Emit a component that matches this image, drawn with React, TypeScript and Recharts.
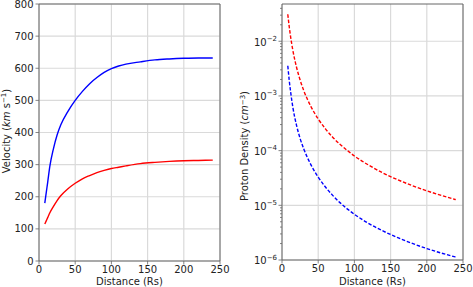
import React from "react";
import {
  LineChart,
  Line,
  XAxis,
  YAxis,
  CartesianGrid,
  ReferenceArea,
  Label,
} from "recharts";

// distance from the Sun (solar radii)
const distance = [8, 10, 12, 15, 20, 25, 30, 40, 50, 60, 70, 80, 90, 100, 110, 120, 140, 160, 180, 200, 220, 240];

// velocity km/s
const velocityFast = [180, 213, 245, 295, 350, 392, 423, 466, 500, 528, 552, 571, 587, 599, 607, 613, 620, 626, 629, 631, 632, 632];
const velocitySlow = [115, 125, 135, 150, 170, 188, 203, 225, 242, 256, 266, 275, 282, 288, 292, 296, 303, 307, 310, 312, 313, 314];

// proton density cm^-3
const densityFast = [
  3.56e-3, 1.92e-3, 1.16e-3, 6.18e-4, 2.93e-4, 1.67e-4, 1.08e-4, 5.5e-5, 3.28e-5, 2.16e-5, 1.52e-5,
  1.12e-5, 8.62e-6, 6.84e-6, 5.58e-6, 4.64e-6, 3.37e-6, 2.56e-6, 2.01e-6, 1.62e-6, 1.34e-6, 1.13e-6,
];
const densitySlow = [
  3.12e-2, 1.84e-2, 1.18e-2, 6.81e-3, 3.38e-3, 1.96e-3, 1.26e-3, 6.39e-4, 3.8e-4, 2.5e-4, 1.76e-4,
  1.31e-4, 1.01e-4, 7.99e-5, 6.51e-5, 5.4e-5, 3.87e-5, 2.93e-5, 2.29e-5, 1.84e-5, 1.52e-5, 1.27e-5,
];

const distanceTicks = [0, 50, 100, 150, 200, 250];
const velocityTicks = [0, 100, 200, 300, 400, 500, 600, 700, 800];
const densityMajorTicks = [1e-6, 1e-5, 1e-4, 1e-3, 1e-2];
const minorMantissas = [2, 3, 4, 5, 6, 7, 8, 9];

const FONT = "DejaVu Sans, sans-serif";
const INK = "#222";
const SPINE = "#666";
const GRID = "#dadada";

const densityDomain: [number, number] = [1e-6, 0.048];
const densityTicks = [
  ...densityMajorTicks,
  ...densityMajorTicks.flatMap((d) => minorMantissas.map((m) => m * d)),
].filter((v) => v >= densityDomain[0] && v <= densityDomain[1]);

const velocityData = distance.map((x, i) => ({
  x,
  fast: velocityFast[i],
  slow: velocitySlow[i],
}));
const densityData = distance.map((x, i) => ({
  x,
  fast: densityFast[i],
  slow: densitySlow[i],
}));

function LogTick(props: any) {
  const { x, y, payload } = props;
  const v = payload.value;
  const lg = Math.log10(v);
  const exp = Math.round(lg);
  const major = Math.abs(lg - exp) < 1e-6;
  const ax = x + 5;
  return (
    <g>
      <line x1={ax} x2={ax - (major ? 3.5 : 2)} y1={y} y2={y} stroke={SPINE} strokeWidth={0.8} />
      {major && (
        <text x={x} y={y} dy={4.3} textAnchor="end" fontSize={10} fill={INK} fontFamily={FONT}>
          10
          <tspan dy={-4.8} fontSize={7}>
            {"\u2212" + -exp}
          </tspan>
        </text>
      )}
    </g>
  );
}

function XTitle(props: any) {
  const vb = props.viewBox;
  return (
    <text
      x={vb.x + vb.width / 2}
      y={vb.y + vb.height - 2}
      textAnchor="middle"
      fontSize={10}
      fill={INK}
      fontFamily={FONT}
    >
      Distance (Rs)
    </text>
  );
}

function VelocityTitle() {
  const x = 9.5;
  const y = 131;
  return (
    <text
      x={x}
      y={y}
      transform={`rotate(-90 ${x} ${y})`}
      textAnchor="middle"
      fontSize={10}
      fill={INK}
      fontFamily={FONT}
    >
      Velocity (<tspan fontStyle="italic">km</tspan> s
      <tspan dy={-3.5} fontSize={7}>
        {"\u22121"}
      </tspan>
      <tspan dy={3.5}>)</tspan>
    </text>
  );
}

function DensityTitle() {
  const x = 12;
  const y = 146;
  return (
    <text
      x={x}
      y={y}
      transform={`rotate(-90 ${x} ${y})`}
      textAnchor="middle"
      fontSize={10}
      fill={INK}
      fontFamily={FONT}
    >
      Proton Density (<tspan fontStyle="italic">cm</tspan>
      <tspan dy={-3.5} fontSize={7}>
        {"\u22123"}
      </tspan>
      <tspan dy={3.5}>)</tspan>
    </text>
  );
}

const tickStyle = { fontSize: 10, fill: INK, fontFamily: FONT };

export default function App() {
  return (
    <div
      style={{
        position: "absolute",
        left: 0,
        top: 0,
        width: 473,
        height: 287,
        background: "#fff",
        display: "flex",
      }}
    >
      <LineChart width={236} height={287} data={velocityData} margin={{ top: 4, right: 16, left: 0, bottom: 0 }}>
        <CartesianGrid stroke={GRID} strokeWidth={1.2} />
        <XAxis
          type="number"
          dataKey="x"
          domain={[0, 250]}
          ticks={distanceTicks}
          interval={0}
          height={26}
          axisLine={false}
          tickSize={3.5}
          tickMargin={1}
          tickLine={{ stroke: SPINE, strokeWidth: 0.8 }}
          tick={tickStyle}
        >
          <Label content={<XTitle />} />
        </XAxis>
        <YAxis
          type="number"
          domain={[0, 800]}
          ticks={velocityTicks}
          interval={0}
          width={39}
          axisLine={false}
          tickSize={3.5}
          tickMargin={2}
          tickLine={{ stroke: SPINE, strokeWidth: 0.8 }}
          tick={tickStyle}
        >
          <Label content={<VelocityTitle />} />
        </YAxis>
        <ReferenceArea x1={0} x2={250} y1={0} y2={800} fill="none" stroke={SPINE} strokeWidth={1} />
        <Line dataKey="fast" type="monotone" stroke="#0000ff" strokeWidth={1.4} dot={false} isAnimationActive={false} />
        <Line dataKey="slow" type="monotone" stroke="#ff0000" strokeWidth={1.4} dot={false} isAnimationActive={false} />
      </LineChart>
      <LineChart width={237} height={287} data={densityData} margin={{ top: 4, right: 10, left: 0, bottom: 0 }}>
        <CartesianGrid stroke={GRID} strokeWidth={1.2} horizontalValues={densityMajorTicks} />
        <XAxis
          type="number"
          dataKey="x"
          domain={[0, 250]}
          ticks={distanceTicks}
          interval={0}
          height={27}
          axisLine={false}
          tickSize={3.5}
          tickMargin={1}
          tickLine={{ stroke: SPINE, strokeWidth: 0.8 }}
          tick={tickStyle}
        >
          <Label content={<XTitle />} />
        </XAxis>
        <YAxis
          type="number"
          scale="log"
          domain={densityDomain}
          ticks={densityTicks}
          interval={0}
          width={46}
          axisLine={false}
          tickSize={3.5}
          tickMargin={1.5}
          tickLine={false}
          tick={<LogTick />}
        >
          <Label content={<DensityTitle />} />
        </YAxis>
        <ReferenceArea x1={0} x2={250} y1={densityDomain[0]} y2={densityDomain[1]} fill="none" stroke={SPINE} strokeWidth={1} />
        <Line
          dataKey="fast"
          type="monotone"
          stroke="#0000ff"
          strokeWidth={1.4}
          strokeDasharray="3.5 1.8"
          dot={false}
          isAnimationActive={false}
        />
        <Line
          dataKey="slow"
          type="monotone"
          stroke="#ff0000"
          strokeWidth={1.4}
          strokeDasharray="3.5 1.8"
          dot={false}
          isAnimationActive={false}
        />
      </LineChart>
    </div>
  );
}
